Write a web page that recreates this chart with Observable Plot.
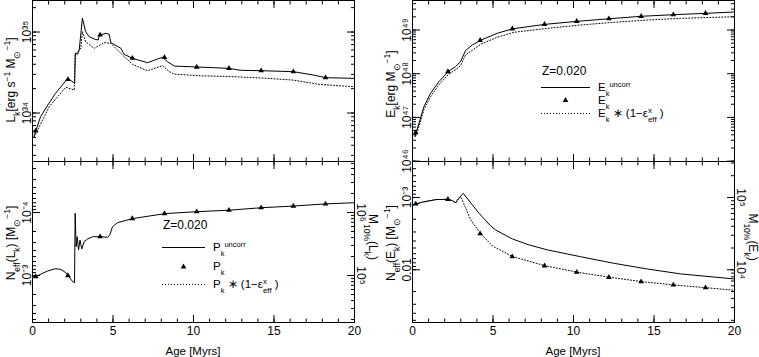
<!DOCTYPE html>
<html><head><meta charset="utf-8">
<script src="https://cdn.jsdelivr.net/npm/d3@7"></script>
<script src="https://cdn.jsdelivr.net/npm/@observablehq/plot@0.6"></script>
<style>
body{margin:0;background:#fff;}
#fig{position:relative;width:759px;height:357px;overflow:hidden;font-family:"Liberation Sans",Arial,sans-serif;color:#000;}
#fig svg{position:absolute;}
</style></head><body><div id="fig"></div>
<script>
// ---------- data ----------
const triAge = [0.2, 2.2, 4.2, 6.2, 8.2, 10.2, 12.2, 14.2, 16.2, 18.2];

// Top-left: L_k [erg s^-1 Msun^-1]
const lkAge = [0.1, 0.2, 0.5, 1.0, 1.43, 2.15, 2.35, 2.62, 2.66, 2.8, 2.9, 3.1, 3.3, 3.52, 3.83, 4.08, 4.14, 4.24, 4.56, 4.76, 4.87, 5.49, 5.69, 6.21, 7.14, 8.07, 8.38, 8.82, 10.2, 12.2, 12.9, 14.2, 16.2, 17.47, 18.2, 20];
const lkUncorr = [5.2e33, 6.0e33, 9.0e33, 1.3e34, 1.75e34, 2.61e34, 2.55e34, 2.33e34, 5.5e34, 5.3e34, 6.0e34, 1.48e35, 1.01e35, 8.75e34, 8.2e34, 7.96e34, 9.0e34, 9.2e34, 9.64e34, 9.37e34, 7.38e34, 6.3e34, 5.31e34, 4.73e34, 4.18e34, 4.88e34, 4.3e34, 3.8e34, 3.7e34, 3.56e34, 3.37e34, 3.33e34, 3.24e34, 2.94e34, 2.73e34, 2.68e34];
const lkCorrAge = [0.1, 1.04, 2.07, 2.59, 2.65, 3.0, 3.1, 3.3, 3.83, 4.45, 4.87, 5.59, 6.21, 7.14, 8.07, 8.5, 8.78, 10.43, 12.5, 14.58, 16.2, 17.8, 20];
const lkCorr = [5.06e33, 1.2e34, 2.08e34, 1.92e34, 5.2e34, 6.3e34, 1.01e35, 7.59e34, 6.3e34, 7.38e34, 7.25e34, 5.2e34, 3.99e34, 3.33e34, 3.84e34, 3.24e34, 3.03e34, 2.88e34, 2.81e34, 2.68e34, 2.55e34, 2.26e34, 2.11e34];
const lkTri = [6.0e33, 2.6e34, 9.2e34, 4.75e34, 4.85e34, 3.7e34, 3.56e34, 3.33e34, 3.24e34, 2.73e34];

// Top-right: E_k [erg Msun^-1]
const ekAge = [0.15, 0.23, 0.4, 0.71, 1.12, 1.64, 2.26, 2.67, 2.98, 3.29, 3.71, 4.27, 5.26, 6.25, 8.26, 10.23, 12.24, 14.22, 16.23, 18.24, 20];
const ekUncorr = [3.6e46, 4.56e46, 7.33e46, 1.76e47, 3.56e47, 6.56e47, 1.15e48, 1.45e48, 1.88e48, 3.36e48, 4.54e48, 5.91e48, 8.4e48, 1.07e49, 1.35e49, 1.58e49, 1.81e49, 2.06e49, 2.24e49, 2.41e49, 2.58e49];
const ekCorrAge = [0.2, 0.4, 0.71, 1.12, 1.64, 2.26, 2.67, 2.98, 3.29, 4.27, 5.26, 6.29, 8.36, 10.43, 12.5, 14.58, 16.65, 20];
const ekCorr = [3.75e46, 6.2e46, 1.5e47, 2.98e47, 5.6e47, 9.84e47, 1.22e48, 1.52e48, 2.68e48, 4.79e48, 6.81e48, 8.86e48, 1.09e49, 1.3e49, 1.5e49, 1.69e49, 1.85e49, 2.01e49];
const ekTri = [4.5e46, 1.12e48, 5.8e48, 1.06e49, 1.35e49, 1.58e49, 1.81e49, 2.06e49, 2.24e49, 2.41e49];

// Bottom-left: N_eff(L_k) [Msun^-1]
const nlAge = [0.0, 0.17, 0.41, 0.93, 1.41, 1.76, 2.07, 2.24, 2.44, 2.61, 2.65, 2.71, 2.78, 2.86, 2.95, 3.06, 3.21, 3.42, 3.73, 4.24, 4.66, 4.8, 4.97, 5.28, 6.21, 8.24, 10.2, 12.2, 14.2, 16.2, 18.2, 20];
const nlVal = [1.02e-3, 1.045e-3, 9.8e-4, 8.49e-4, 7.8e-4, 7.98e-4, 9.03e-4, 1.02e-3, 1.21e-3, 1.3e-3, 1.03e-4, 3.49e-4, 2.42e-4, 3.94e-4, 2.74e-4, 3.79e-4, 2.9e-4, 2.64e-4, 2.42e-4, 2.42e-4, 2.48e-4, 2.28e-4, 1.68e-4, 1.45e-4, 1.25e-4, 1.04e-4, 9.7e-5, 9.2e-5, 8.4e-5, 7.9e-5, 7.3e-5, 6.99e-5];
const nlTri = [1.04e-3, 1.0e-3, 2.42e-4, 1.25e-4, 1.04e-4, 9.7e-5, 9.2e-5, 8.4e-5, 7.9e-5, 7.3e-5];

// Bottom-right: N_eff(E_k) [Msun^-1]
const neAge = [0.0, 0.21, 0.62, 1.45, 2.24, 2.48, 2.69, 2.86, 3.15, 4.14, 4.84, 5.17, 6.21, 7.25, 8.4, 10.43, 12.5, 14.58, 16.65, 20];
const neUncorr = [1.27e-3, 1.23e-3, 1.16e-3, 1.07e-3, 1.06e-3, 1.11e-3, 1.18e-3, 1.03e-3, 8.75e-4, 1.66e-3, 2.46e-3, 2.82e-3, 3.75e-3, 4.54e-3, 5.32e-3, 6.59e-3, 8.13e-3, 9.75e-3, 1.14e-2, 1.34e-2];
const neCorrAge = [0.0, 0.21, 0.62, 1.45, 2.24, 2.48, 2.69, 2.86, 3.0, 3.62, 4.23, 4.97, 6.23, 8.25, 10.23, 12.24, 14.27, 16.23, 18.24, 20];
const neCorr = [1.27e-3, 1.23e-3, 1.16e-3, 1.07e-3, 1.06e-3, 1.11e-3, 1.18e-3, 1.03e-3, 9.75e-4, 2.05e-3, 3.17e-3, 4.69e-3, 6.59e-3, 8.81e-3, 1.08e-2, 1.27e-2, 1.46e-2, 1.62e-2, 1.77e-2, 1.92e-2];
const neTri = [1.23e-3, 1.06e-3, 3.17e-3, 6.59e-3, 8.81e-3, 1.08e-2, 1.27e-2, 1.46e-2, 1.62e-2, 1.77e-2];

// ---------- ticks / labels ----------
const xMajor = [0, 5, 10, 15, 20];
const xMinor = [0,1,2,3,4,5,6,7,8,9,10,11,12,13,14,15,16,17,18,19,20];
const tlYLabels = [1e34, 1e35];
const trYLabels = [1e46, 1e47, 1e48, 1e49];
const blYLabels = [1e-4, 1e-3];
const brYLabels = [1e-3, 1e-2];
const brYText = {"-3": "10⁻³", "-2": "0.01"};
const mLabels = {bl: [1e5, 1e6], br: [1e4, 1e5]};
const mScale = 100; // M_10% = 100 / N_eff

// ---------- helpers ----------
const FONT = '"Liberation Sans", Arial, sans-serif';
const SUP = {"0":"⁰","1":"¹","2":"²","3":"³","4":"⁴","5":"⁵","6":"⁶","7":"⁷","8":"⁸","9":"⁹","-":"⁻"};
const pow10 = v => "10" + String(Math.round(Math.log10(v))).split("").map(c => SUP[c]).join("");
function logTicks(lo, hi) {
  const out = [];
  for (let e = Math.floor(Math.log10(lo)); e <= Math.ceil(Math.log10(hi)); e++)
    for (let k = 1; k < 10; k++) { const v = k * Math.pow(10, e); if (v >= lo * 0.9999 && v <= hi * 1.0001) out.push(v); }
  return out;
}
const rows = (xs, ys) => xs.map((a, i) => ({age: a, v: ys[i]}));
const blank = () => "";

function panel(o) {
  const [lo, hi] = o.yDomain;
  const marks = [];
  for (const [anchor, s] of [["bottom", -1], ["top", 1]]) {
    marks.push(Plot.axisX({anchor, ticks: xMinor, tickSize: 3.5, dy: s * 3.5, tickFormat: blank, label: null}));
    marks.push(Plot.axisX({anchor, ticks: xMajor, tickSize: 7, dy: s * 7, tickFormat: blank, label: null}));
  }
  const yMinor = logTicks(lo, hi);
  const yMajor = yMinor.filter(v => Math.abs(Math.log10(v) - Math.round(Math.log10(v))) < 1e-9);
  marks.push(Plot.axisY({anchor: "left", ticks: yMinor, tickSize: 4, dx: 4, tickFormat: blank, label: null}));
  marks.push(Plot.axisY({anchor: "left", ticks: yMajor, tickSize: 8, dx: 8, tickFormat: blank, label: null}));
  let rMinor = yMinor, rMajor = yMajor;
  if (o.mAxis) {
    const mm = logTicks(mScale / hi, mScale / lo);
    rMinor = mm.map(m => mScale / m);
    rMajor = mm.filter(v => Math.abs(Math.log10(v) - Math.round(Math.log10(v))) < 1e-9).map(m => mScale / m);
  }
  marks.push(Plot.axisY({anchor: "right", ticks: rMinor, tickSize: 4, dx: -4, tickFormat: blank, label: null}));
  marks.push(Plot.axisY({anchor: "right", ticks: rMajor, tickSize: 8, dx: -8, tickFormat: blank, label: null}));
  marks.push(Plot.axisY({anchor: "left", ticks: o.yLabels, tickSize: 0, tickPadding: 2, tickRotate: -90, tickFormat: o.yFmt || pow10, label: null, fontSize: 12}));
  if (o.mAxis) {
    marks.push(Plot.axisY({anchor: "right", ticks: o.mAxis.map(m => mScale / m), tickSize: 0, tickPadding: 2, tickRotate: 90, lineAnchor: "bottom", tickFormat: d => pow10(mScale / d), label: null, fontSize: 12}));
  }
  if (o.xLabels) marks.push(Plot.axisX({anchor: "bottom", ticks: xMajor, tickSize: 0, tickPadding: 4, tickFormat: d => String(d), label: null, fontSize: 12}));
  marks.push(Plot.frame({stroke: "black"}));
  for (const L of o.lines) marks.push(Plot.line(L.data, {x: "age", y: "v", stroke: "black", strokeWidth: 1, strokeDasharray: L.dash, clip: true}));
  marks.push(Plot.dot(o.tri, {x: "age", y: "v", symbol: "triangle", r: 2.1, fill: "black", stroke: "none"}));
  const svg = Plot.plot({
    width: o.w, height: o.h,
    marginLeft: 32, marginRight: o.mr, marginTop: o.mt, marginBottom: o.mb,
    x: {domain: [0, 20]},
    y: {type: "log", domain: o.yDomain, reverse: !!o.reverse},
    style: {background: "transparent", fontFamily: FONT, fontSize: "12px", color: "black", overflow: "visible"},
    marks
  });
  svg.style.left = o.left + "px";
  svg.style.top = o.top + "px";
  return svg;
}

const fig = document.getElementById("fig");
fig.append(panel({left: 0, top: 0, w: 380, h: 170, mr: 26, mt: 0, mb: 9,
  yDomain: [2.52e33, 2.45e35], yLabels: tlYLabels,
  lines: [{data: rows(lkAge, lkUncorr)}, {data: rows(lkCorrAge, lkCorr), dash: "1,2"}],
  tri: rows(triAge, lkTri)}));
fig.append(panel({left: 380, top: 0, w: 379, h: 170, mr: 25, mt: 0, mb: 9,
  yDomain: [9.8e45, 4.73e49], yLabels: trYLabels,
  lines: [{data: rows(ekAge, ekUncorr)}, {data: rows(ekCorrAge, ekCorr), dash: "1,2"}],
  tri: rows(triAge, ekTri)}));
fig.append(panel({left: 0, top: 150, w: 380, h: 207, mr: 26, mt: 11, mb: 35,
  yDomain: [1.55e-5, 5.57e-3], reverse: true, yLabels: blYLabels, mAxis: mLabels.bl, xLabels: true,
  lines: [{data: rows(nlAge, nlVal)}],
  tri: rows(triAge, nlTri)}));
fig.append(panel({left: 380, top: 150, w: 379, h: 207, mr: 25, mt: 11, mb: 35,
  yDomain: [3.18e-4, 5.36e-2], reverse: true, yLabels: brYLabels, yFmt: d => brYText[Math.round(Math.log10(d))], mAxis: mLabels.br, xLabels: true,
  lines: [{data: rows(neAge, neUncorr)}, {data: rows(neCorrAge, neCorr), dash: "1,2"}],
  tri: rows(triAge, neTri)}));

// ---------- titles & legends (overlay) ----------
const sb = (t, f = 8.5) => `<tspan baseline-shift="sub" font-size="${f}">${t}</tspan>`;
const sp = (t, f = 8.5) => `<tspan baseline-shift="super" font-size="${f}">${t}</tspan>`;
const eps = `ε${sp("x", 8)}<tspan baseline-shift="sub" font-size="8" dx="-4">eff</tspan>`;
const tri = (x, y) => `<path d="M${x},${y - 3} L${x + 2.8},${y + 2} L${x - 2.8},${y + 2} Z" fill="black"/>`;
const legend = (x0, x1, xt, yZ, yL, yT, yD, sym) => `
  <text x="${x0 + 1}" y="${yZ}" font-size="12">Z=0.020</text>
  <line x1="${x0}" x2="${x1}" y1="${yL}" y2="${yL}" stroke="black"/>
  <text x="${xt}" y="${yL + 3}" font-size="11.5">${sym}${sb("k", 7.5)}${sp("uncorr", 7.5)}</text>
  ${tri((x0 + x1) / 2, yT)}
  <text x="${xt}" y="${yT + 3.5}" font-size="11.5">${sym}${sb("k", 7.5)}</text>
  <line x1="${x0}" x2="${x1}" y1="${yD}" y2="${yD}" stroke="black" stroke-dasharray="1,2"/>
  <text x="${xt}" y="${yD + 3.5}" font-size="11.5">${sym}${sb("k", 7.5)} ∗ (1−${eps} )</text>`;
const ov = `<svg width="759" height="357" style="left:0;top:0" font-family='${FONT}' fill="black">
  <text transform="translate(15,80) rotate(-90)" text-anchor="middle" font-size="12">L${sb("k")}[erg s${sp("−1")} M${sb("⊙")}${sp("−1")}]</text>
  <text transform="translate(395,84) rotate(-90)" text-anchor="middle" font-size="12">E${sb("k")}[erg M${sb("⊙")}${sp("−1")}]</text>
  <text transform="translate(15,243) rotate(-90)" text-anchor="middle" font-size="12">N${sb("eff")}(L${sb("k")}) [M${sb("⊙")}${sp("−1")}]</text>
  <text transform="translate(395,243) rotate(-90)" text-anchor="middle" font-size="12">N${sb("eff")}(E${sb("k")}) [M${sb("⊙")}${sp("−1")}]</text>
  <text transform="translate(369,237) rotate(90)" text-anchor="middle" font-size="12">M${sb("10%")}(L${sb("k")})</text>
  <text transform="translate(749,237) rotate(90)" text-anchor="middle" font-size="12">M${sb("10%")}(E${sb("k")})</text>
  <text x="193" y="355" text-anchor="middle" font-size="11.5">Age [Myrs]</text>
  <text x="573" y="355" text-anchor="middle" font-size="11.5">Age [Myrs]</text>
  ${legend(162, 205, 213, 228.5, 247.5, 266.5, 284.5, "P")}
  ${legend(541, 590, 598, 74.5, 87.5, 100, 113.5, "E")}
</svg>`;
fig.insertAdjacentHTML("beforeend", ov);
</script></body></html>
